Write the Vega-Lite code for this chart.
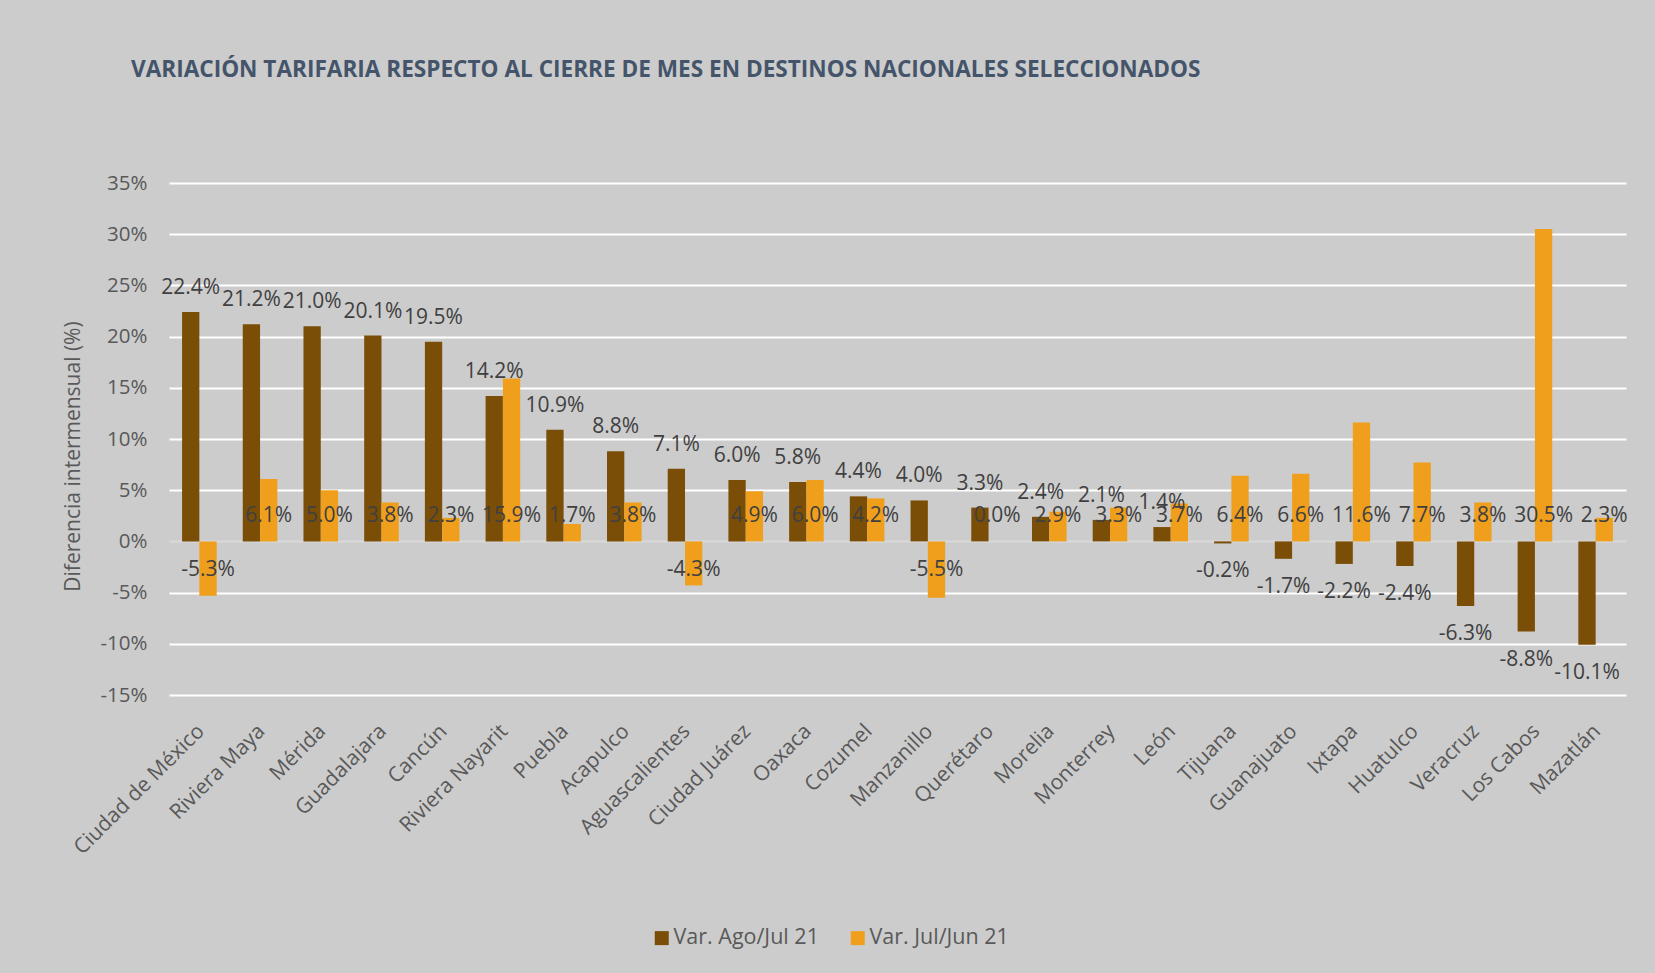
{
  "$schema": "https://vega.github.io/schema/vega-lite/v6.json",
  "background": "#CCCCCC",
  "autosize": {"type": "none"},
  "padding": {"left": 169, "top": 183, "right": 29, "bottom": 278},
  "width": 1457,
  "height": 512,
  "config": {
    "view": {"stroke": null},
    "font": "Open Sans",
    "locale": {"number": {"decimal": ".", "thousands": ",", "grouping": [3], "currency": ["$", ""], "minus": "-"}}
  },
  "title": {
    "text": "VARIACIÓN TARIFARIA RESPECTO AL CIERRE DE MES EN DESTINOS NACIONALES SELECCIONADOS",
    "anchor": "start",
    "frame": "group",
    "dx": -38,
    "offset": 91,
    "fontSize": 22.6,
    "font": "Open Sans",
    "fontWeight": "bold",
    "color": "#44546A"
  },
  "data": {
    "values": [
      {"destino": "Ciudad de México", "serie": "Var. Ago/Jul 21", "valor": 0.224},
      {"destino": "Ciudad de México", "serie": "Var. Jul/Jun 21", "valor": -0.053},
      {"destino": "Riviera Maya", "serie": "Var. Ago/Jul 21", "valor": 0.212},
      {"destino": "Riviera Maya", "serie": "Var. Jul/Jun 21", "valor": 0.061},
      {"destino": "Mérida", "serie": "Var. Ago/Jul 21", "valor": 0.210},
      {"destino": "Mérida", "serie": "Var. Jul/Jun 21", "valor": 0.050},
      {"destino": "Guadalajara", "serie": "Var. Ago/Jul 21", "valor": 0.201},
      {"destino": "Guadalajara", "serie": "Var. Jul/Jun 21", "valor": 0.038},
      {"destino": "Cancún", "serie": "Var. Ago/Jul 21", "valor": 0.195},
      {"destino": "Cancún", "serie": "Var. Jul/Jun 21", "valor": 0.023},
      {"destino": "Riviera Nayarit", "serie": "Var. Ago/Jul 21", "valor": 0.142},
      {"destino": "Riviera Nayarit", "serie": "Var. Jul/Jun 21", "valor": 0.159},
      {"destino": "Puebla", "serie": "Var. Ago/Jul 21", "valor": 0.109},
      {"destino": "Puebla", "serie": "Var. Jul/Jun 21", "valor": 0.017},
      {"destino": "Acapulco", "serie": "Var. Ago/Jul 21", "valor": 0.088},
      {"destino": "Acapulco", "serie": "Var. Jul/Jun 21", "valor": 0.038},
      {"destino": "Aguascalientes", "serie": "Var. Ago/Jul 21", "valor": 0.071},
      {"destino": "Aguascalientes", "serie": "Var. Jul/Jun 21", "valor": -0.043},
      {"destino": "Ciudad Juárez", "serie": "Var. Ago/Jul 21", "valor": 0.060},
      {"destino": "Ciudad Juárez", "serie": "Var. Jul/Jun 21", "valor": 0.049},
      {"destino": "Oaxaca", "serie": "Var. Ago/Jul 21", "valor": 0.058},
      {"destino": "Oaxaca", "serie": "Var. Jul/Jun 21", "valor": 0.060},
      {"destino": "Cozumel", "serie": "Var. Ago/Jul 21", "valor": 0.044},
      {"destino": "Cozumel", "serie": "Var. Jul/Jun 21", "valor": 0.042},
      {"destino": "Manzanillo", "serie": "Var. Ago/Jul 21", "valor": 0.040},
      {"destino": "Manzanillo", "serie": "Var. Jul/Jun 21", "valor": -0.055},
      {"destino": "Querétaro", "serie": "Var. Ago/Jul 21", "valor": 0.033},
      {"destino": "Querétaro", "serie": "Var. Jul/Jun 21", "valor": 0.000},
      {"destino": "Morelia", "serie": "Var. Ago/Jul 21", "valor": 0.024},
      {"destino": "Morelia", "serie": "Var. Jul/Jun 21", "valor": 0.029},
      {"destino": "Monterrey", "serie": "Var. Ago/Jul 21", "valor": 0.021},
      {"destino": "Monterrey", "serie": "Var. Jul/Jun 21", "valor": 0.033},
      {"destino": "León", "serie": "Var. Ago/Jul 21", "valor": 0.014},
      {"destino": "León", "serie": "Var. Jul/Jun 21", "valor": 0.037},
      {"destino": "Tijuana", "serie": "Var. Ago/Jul 21", "valor": -0.002},
      {"destino": "Tijuana", "serie": "Var. Jul/Jun 21", "valor": 0.064},
      {"destino": "Guanajuato", "serie": "Var. Ago/Jul 21", "valor": -0.017},
      {"destino": "Guanajuato", "serie": "Var. Jul/Jun 21", "valor": 0.066},
      {"destino": "Ixtapa", "serie": "Var. Ago/Jul 21", "valor": -0.022},
      {"destino": "Ixtapa", "serie": "Var. Jul/Jun 21", "valor": 0.116},
      {"destino": "Huatulco", "serie": "Var. Ago/Jul 21", "valor": -0.024},
      {"destino": "Huatulco", "serie": "Var. Jul/Jun 21", "valor": 0.077},
      {"destino": "Veracruz", "serie": "Var. Ago/Jul 21", "valor": -0.063},
      {"destino": "Veracruz", "serie": "Var. Jul/Jun 21", "valor": 0.038},
      {"destino": "Los Cabos", "serie": "Var. Ago/Jul 21", "valor": -0.088},
      {"destino": "Los Cabos", "serie": "Var. Jul/Jun 21", "valor": 0.305},
      {"destino": "Mazatlán", "serie": "Var. Ago/Jul 21", "valor": -0.101},
      {"destino": "Mazatlán", "serie": "Var. Jul/Jun 21", "valor": 0.023}
    ]
  },
  "encoding": {
    "x": {
      "field": "destino",
      "type": "nominal",
      "sort": null,
      "scale": {"paddingInner": 0.43, "paddingOuter": 0.215},
      "axis": {
        "title": null,
        "labelAngle": -45,
        "labelFontSize": 21,
        "labelColor": "#595959",
        "labelFont": "Open Sans",
        "labelPadding": 25,
        "labelOffset": -6,
        "ticks": false,
        "domain": false
      }
    },
    "xOffset": {
      "field": "serie",
      "type": "nominal",
      "scale": {"domain": ["Var. Ago/Jul 21", "Var. Jul/Jun 21"], "paddingInner": 0, "paddingOuter": 0}
    }
  },
  "layer": [
    {
      "mark": {"type": "bar"},
      "encoding": {
        "y": {
          "field": "valor",
          "type": "quantitative",
          "scale": {"domain": [-0.15, 0.35], "nice": false, "zero": false},
          "axis": {
            "values": [-0.15, -0.1, -0.05, 0, 0.05, 0.1, 0.15, 0.2, 0.25, 0.3, 0.35],
            "format": ".0%",
            "title": "Diferencia intermensual (%)",
            "titleFontSize": 21,
            "titleFontWeight": "normal",
            "titleColor": "#595959",
            "titleFont": "Open Sans",
            "titlePadding": 17,
            "titleY": 273,
            "labelFontSize": 20.5,
            "labelColor": "#595959",
            "labelFont": "Open Sans",
            "labelPadding": 22,
            "ticks": false,
            "domain": false,
            "gridColor": {"condition": {"test": "datum.value === 0", "value": "#D9D9D9"}, "value": "#FFFFFF"},
            "gridWidth": 2,
            "gridOpacity": 1
          }
        },
        "color": {
          "field": "serie",
          "type": "nominal",
          "scale": {"domain": ["Var. Ago/Jul 21", "Var. Jul/Jun 21"], "range": ["#7A4E07", "#F09F1C"]},
          "legend": {
            "title": null,
            "orient": "none",
            "direction": "horizontal",
            "legendX": 482,
            "legendY": 744,
            "symbolType": "square",
            "symbolSize": 196,
            "symbolStrokeWidth": 0,
            "labelFontSize": 21.5,
            "labelFont": "Open Sans",
            "labelColor": "#595959",
            "labelOffset": 1,
            "columnPadding": 28
          }
        }
      }
    },
    {
      "transform": [{"filter": "datum.serie === 'Var. Ago/Jul 21' && datum.valor >= 0"}],
      "mark": {"type": "text", "baseline": "middle", "dy": -24, "fontSize": 21, "color": "#404040", "font": "Open Sans"},
      "encoding": {
        "y": {"field": "valor", "type": "quantitative"},
        "text": {"field": "valor", "type": "quantitative", "format": ".1%"}
      }
    },
    {
      "transform": [{"filter": "datum.serie === 'Var. Ago/Jul 21' && datum.valor < 0"}],
      "mark": {"type": "text", "baseline": "middle", "dy": 28, "fontSize": 21, "color": "#404040", "font": "Open Sans"},
      "encoding": {
        "y": {"field": "valor", "type": "quantitative"},
        "text": {"field": "valor", "type": "quantitative", "format": ".1%"}
      }
    },
    {
      "transform": [{"filter": "datum.serie === 'Var. Jul/Jun 21' && datum.valor >= 0"}],
      "mark": {"type": "text", "baseline": "middle", "dy": -25, "fontSize": 21, "color": "#404040", "font": "Open Sans"},
      "encoding": {
        "y": {"datum": 0, "type": "quantitative"},
        "text": {"field": "valor", "type": "quantitative", "format": ".1%"}
      }
    },
    {
      "transform": [{"filter": "datum.serie === 'Var. Jul/Jun 21' && datum.valor < 0"}],
      "mark": {"type": "text", "baseline": "middle", "dy": 29, "fontSize": 21, "color": "#404040", "font": "Open Sans"},
      "encoding": {
        "y": {"datum": 0, "type": "quantitative"},
        "text": {"field": "valor", "type": "quantitative", "format": ".1%"}
      }
    }
  ]
}
